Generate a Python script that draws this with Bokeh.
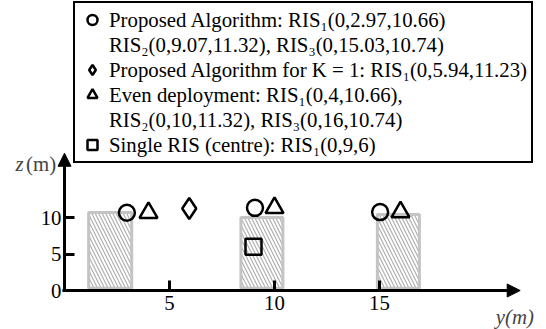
from bokeh.plotting import figure
from bokeh.models import (LinearAxis, FixedTicker, Arrow, NormalHead, Label,
                          Legend, LegendItem, Range1d)
from bokeh.embed import file_html
from bokeh.resources import INLINE

# RIS positions in the y-z plane (metres)
prop_y = [2.97, 9.07, 15.03]
prop_z = [10.66, 11.32, 10.74]
k1_y = [5.94]
k1_z = [11.23]
even_y = [4, 10, 16]
even_z = [10.66, 11.32, 10.74]
single_y = [9]
single_z = [6]

# buildings along the street: y-extent and height
bld_left = [1.15, 8.4, 14.9]
bld_right = [3.2, 10.4, 16.9]
bld_top = [10.7, 10.0, 10.4]

y_ticks = [5, 10, 15]
z_ticks = [0, 5, 10]

W, H = 546, 329
LEFT, BOTTOM = 64, 39          # origin of the axes on the canvas
PX_Y, PX_Z = 21.0, 7.3         # pixels per metre
FONT = "Liberation Serif"
FS = "20.8px"

p = figure(width=W, height=H,
           x_range=Range1d(-LEFT / PX_Y, (W - LEFT) / PX_Y),
           y_range=Range1d(-BOTTOM / PX_Z, (H - BOTTOM) / PX_Z),
           output_backend="svg", toolbar_location=None,
           x_axis_location=None, y_axis_location=None,
           min_border_left=0, min_border_bottom=0,
           min_border_top=0, min_border_right=0)
p.outline_line_color = None
p.xgrid.visible = False
p.ygrid.visible = False
p.background_fill_color = "white"
p.border_fill_color = "white"

# axes crossing at the origin: ticks pointing inwards, arrows drawn separately
axis_style = dict(axis_line_color=None, major_tick_out=0, major_tick_in=10,
                  major_tick_line_width=3, minor_tick_line_color=None,
                  major_label_text_font=FONT, major_label_text_font_size=FS,
                  major_label_text_color="black", fixed_location=0)
xa = LinearAxis(ticker=FixedTicker(ticks=y_ticks), major_label_standoff=5, **axis_style)
za = LinearAxis(ticker=FixedTicker(ticks=z_ticks), major_label_standoff=3, **axis_style)
p.add_layout(xa, "below")
p.add_layout(za, "left")

head = dict(size=13, fill_color="black", line_color="black")
p.add_layout(Arrow(x_start=-0.1, y_start=0, x_end=21.7, y_end=0, line_width=3,
                   end=NormalHead(**head)))
p.add_layout(Arrow(x_start=0, y_start=0, x_end=0, y_end=18.8, line_width=3,
                   end=NormalHead(**head)))

# buildings
p.quad(left=bld_left, right=bld_right, bottom=0.3, top=bld_top,
       fill_color="white", line_color="#c4c4c4", line_width=3,
       hatch_pattern="\\", hatch_color="#b0b0b0", hatch_scale=7, hatch_weight=1.2)

mk = dict(fill_color=None, line_color="black", line_width=2.5)
r_prop = p.scatter(prop_y, prop_z, marker="circle", size=16, **mk)
r_k1 = p.scatter(k1_y, k1_z, marker="diamond", size=21, **mk)
r_even = p.scatter(even_y, even_z, marker="triangle", size=18, **mk)
r_single = p.scatter(single_y, single_z, marker="square", size=16, **mk)
# empty renderer used for the continuation lines of the legend
r_blank = p.scatter(x=[], y=[], marker="circle", size=1, fill_color=None, line_color=None)


def ris(i, y, z):
    sub = "₁₂₃"[i]
    return f"RIS{sub}(0,{y:g},{z:g})"


rows = [
    ("Proposed Algorithm: " + ris(0, prop_y[0], prop_z[0]), r_prop),
    (ris(1, prop_y[1], prop_z[1]) + ", " + ris(2, prop_y[2], prop_z[2]), r_blank),
    ("Proposed Algorithm for K = 1: " + ris(0, k1_y[0], k1_z[0]), r_k1),
    ("Even deployment: " + ris(0, even_y[0], even_z[0]) + ",", r_even),
    (ris(1, even_y[1], even_z[1]) + ", " + ris(2, even_y[2], even_z[2]), r_blank),
    ("Single RIS (centre): " + ris(0, single_y[0], single_z[0]), r_single),
]
legend = Legend(items=[LegendItem(label=t, renderers=[r]) for t, r in rows],
                location=(73, 166), orientation="vertical",
                border_line_color="black", border_line_width=2, border_line_alpha=1,
                background_fill_color="white", background_fill_alpha=1,
                padding=4, spacing=0, margin=0, label_standoff=4,
                glyph_width=26, glyph_height=25, label_height=25,
                label_text_font=FONT, label_text_font_size=FS,
                label_text_color="black")
p.add_layout(legend)

# axis titles
p.add_layout(Label(x=-2.33, y=17.4, text="z", text_font=FONT, text_font_size=FS,
                   text_font_style="italic", text_align="left", text_baseline="middle"))
p.add_layout(Label(x=-0.4, y=17.4, text="(m)", text_font=FONT, text_font_size=FS,
                   text_align="right", text_baseline="middle"))
p.add_layout(Label(x=22.35, y=-3.6, text="y(m)", text_font=FONT, text_font_size=FS,
                   text_font_style="italic", text_align="right", text_baseline="middle"))

open("out.html", "w").write(file_html(p, INLINE))
